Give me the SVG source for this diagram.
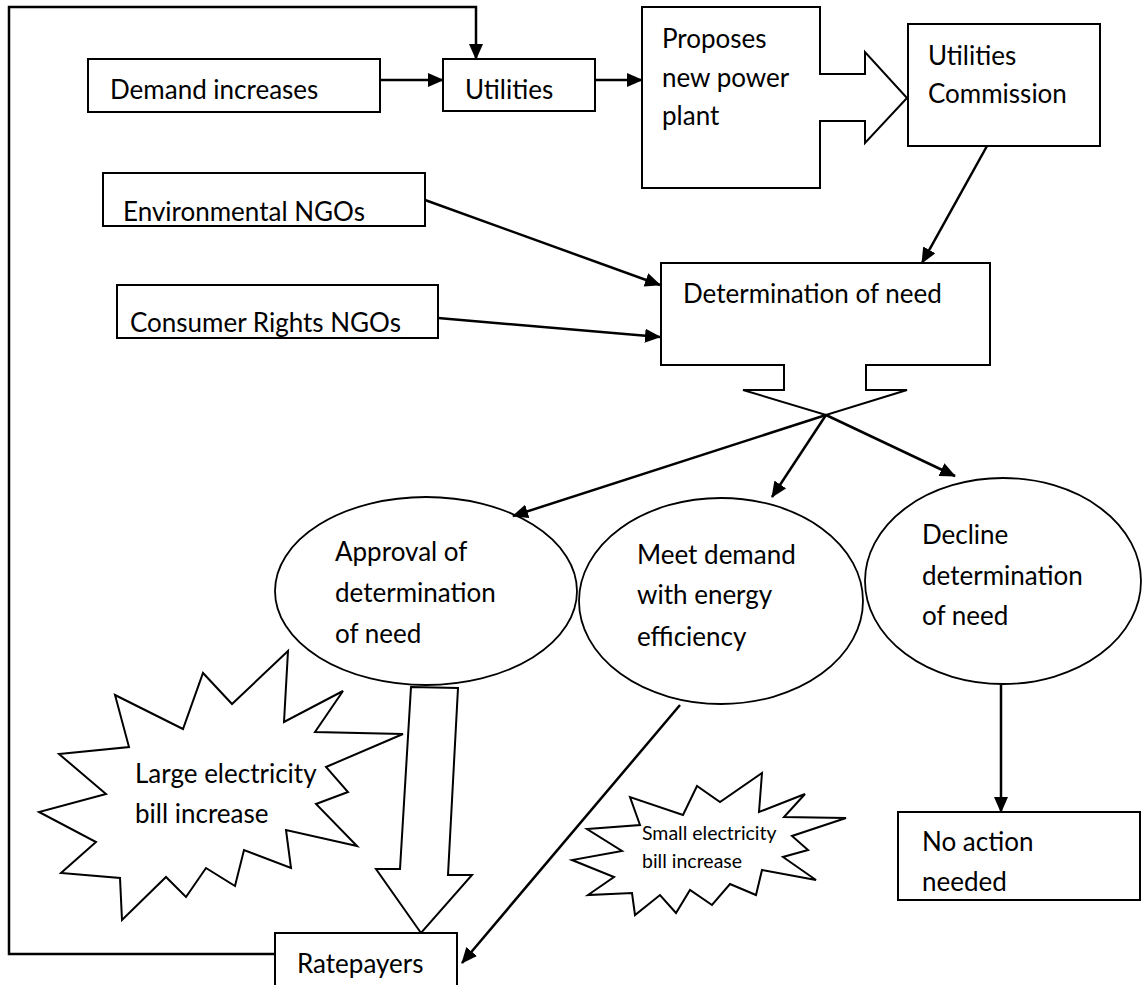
<svg xmlns="http://www.w3.org/2000/svg" width="1143" height="985" viewBox="0 0 1143 985">
<defs>
<marker id="ah" markerUnits="userSpaceOnUse" markerWidth="16" markerHeight="14" refX="15" refY="7" orient="auto">
<path d="M0,0 L16,7 L0,14 Z" fill="#000"/>
</marker>
<clipPath id="crClip"><rect x="117" y="285" width="321" height="53"/></clipPath>
</defs>
<style>
.box{fill:#fff;stroke:#000;stroke-width:2}
.shape{fill:#fff;stroke:#000;stroke-width:2;stroke-linejoin:miter}
.ell{fill:#fff;stroke:#000;stroke-width:1.8}
.con{fill:none;stroke:#000;stroke-width:2.5}
.t{font-family:Lato,"Open Sans",sans-serif;font-size:26px;fill:#000}
.ts{font-family:Lato,"Open Sans",sans-serif;font-size:19.5px;fill:#000}
</style>
<rect width="1143" height="985" fill="#fff"/>

<g id="loop">
<path class="con" d="M275,954 L9,954 L9,7 L476,7 L476,59" stroke-width="2" marker-end="url(#ah)"/>
</g>

<g id="demand"><rect class="box" x="88" y="59" width="292" height="53"/><text class="t" x="110" y="99">Demand increases</text></g>
<g id="utilities"><rect class="box" x="443" y="59" width="152" height="52"/><text class="t" x="465" y="99">Utilities</text></g>
<g id="proposes"><polygon class="shape" points="642,7 820,7 820,74 865,74 865,52 907,98 865,143 865,121 820,121 820,188 642,188"/>
<text class="t" x="662" y="48">Proposes</text><text class="t" x="662" y="87">new power</text><text class="t" x="662" y="125">plant</text></g>
<g id="commission"><rect class="box" x="908" y="24" width="192" height="122"/><text class="t" x="928" y="65">Utilities</text><text class="t" x="928" y="103">Commission</text></g>
<g id="env"><rect class="box" x="103" y="173" width="322" height="53"/><text class="t" x="123" y="221">Environmental NGOs</text></g>
<g id="consumer"><rect class="box" x="117" y="285" width="321" height="53"/><text class="t" x="130" y="332" clip-path="url(#crClip)">Consumer Rights NGOs</text></g>
<g id="determination"><polygon class="shape" points="661,263 990,263 990,365 866,365 866,390 907,390 826,415 743,390 784,390 784,365 661,365"/>
<text class="t" x="683" y="303">Determination of need</text></g>

<g id="approval"><ellipse class="ell" cx="426" cy="591" rx="151" ry="94"/>
<text class="t" x="335" y="561">Approval of</text><text class="t" x="335" y="602">determination</text><text class="t" x="335" y="643">of need</text></g>
<g id="meet"><ellipse class="ell" cx="721" cy="601" rx="142" ry="103"/>
<text class="t" x="637" y="564">Meet demand</text><text class="t" x="637" y="604">with energy</text><text class="t" x="637" y="646">efficiency</text></g>
<g id="decline"><ellipse class="ell" cx="1003" cy="581" rx="138" ry="103"/>
<text class="t" x="922" y="544">Decline</text><text class="t" x="922" y="585">determination</text><text class="t" x="922" y="625">of need</text></g>

<g id="large"><polygon class="shape" points="288,651 284,722 343,691 315,732 403,734 326,767 348,792 316,804 357,846 286,830 291,868 244,850 235,886 206,868 186,897 166,877 122,920 120,878 61,873 96,842 39,812 106,794 59,754 129,747 115,695 183,729 203,673 232,704"/>
<text class="t" x="135" y="783">Large electricity</text><text class="t" x="135" y="823">bill increase</text></g>
<g id="small"><polygon class="shape" points="762,773 759,812 805,794 784,817 846,818 792,836 808,850 783,857 816,880 762,870 756,895 730,884 712,905 690,890 676,913 660,895 635,915 632,893 588,895 614,877 572,860 622,851 587,829 640,825 630,797 683,815 697,786 720,802"/>
<text class="ts" x="642" y="840">Small electricity</text><text class="ts" x="642" y="868">bill increase</text></g>

<g id="blockarrow"><polygon class="shape" points="411,687 458,688 448,875 472,875 421,933 376,869 400,869"/></g>

<g id="noaction"><rect class="box" x="898" y="812" width="242" height="88"/><text class="t" x="922" y="851">No action</text><text class="t" x="922" y="891">needed</text></g>
<g id="ratepayers"><rect class="box" x="275" y="933" width="182" height="60"/><text class="t" x="297" y="973">Ratepayers</text></g>

<g id="connectors">
<line class="con" x1="380" y1="80" x2="443" y2="80" marker-end="url(#ah)"/>
<line class="con" x1="595" y1="80" x2="642" y2="80" marker-end="url(#ah)"/>
<line class="con" x1="987" y1="146" x2="922" y2="263" marker-end="url(#ah)"/>
<line class="con" x1="425" y1="200" x2="660" y2="285" marker-end="url(#ah)"/>
<line class="con" x1="438" y1="318" x2="660" y2="337" marker-end="url(#ah)"/>
<line class="con" x1="826" y1="415" x2="513" y2="516" marker-end="url(#ah)"/>
<line class="con" x1="826" y1="415" x2="772" y2="497" marker-end="url(#ah)"/>
<line class="con" x1="826" y1="415" x2="955" y2="476" marker-end="url(#ah)"/>
<line class="con" x1="1001" y1="685" x2="1001" y2="812" marker-end="url(#ah)"/>
<line class="con" x1="680" y1="705" x2="462" y2="963" marker-end="url(#ah)"/>
</g>
</svg>
